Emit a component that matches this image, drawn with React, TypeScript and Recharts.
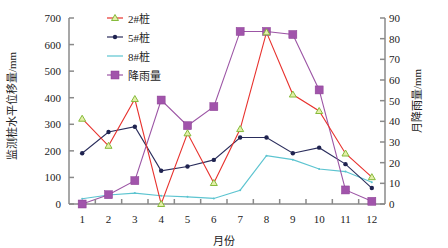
import { ComposedChart, Line, XAxis, YAxis, Legend, Label } from "recharts";

// month categories and readings taken off the figure
const months = ["1", "2", "3", "4", "5", "6", "7", "8", "9", "10", "11", "12"];
const pile2 = [321, 219, 395, 0, 266, 79, 282, 646, 412, 350, 190, 101];
const pile5 = [191, 271, 291, 125, 141, 166, 250, 250, 191, 212, 150, 60];
const pile8 = [20, 34, 41, 31, 27, 21, 52, 182, 167, 132, 122, 82];
const rainfall = [0, 4.5, 11.3, 50.3, 37.9, 47.1, 83.5, 83.5, 82, 55.2, 6.8, 1.3];

const leftTicks = [0, 100, 200, 300, 400, 500, 600, 700];
const rightTicks = [0, 10, 20, 30, 40, 50, 60, 70, 80, 90];

const series = [
  { key: "p2", name: "2#桩", color: "#e8322e", marker: "triangle" },
  { key: "p5", name: "5#桩", color: "#2a2d5c", marker: "dot" },
  { key: "p8", name: "8#桩", color: "#5cc4d0", marker: "none" },
  { key: "rain", name: "降雨量", color: "#9c55a5", marker: "square" },
];

const data = months.map((m, i) => ({
  month: m,
  p2: pile2[i],
  p5: pile5[i],
  p8: pile8[i],
  rain: rainfall[i],
}));

const W = 448;
const H = 248;
const LEFT_W = 69;
const RIGHT_W = 63;
const TOP = 18;
const X_H = 44;
const PLOT_W = W - LEFT_W - RIGHT_W;
const band = PLOT_W / months.length;

const AXIS = "#8a8a8a";
const TEXT = "#222";
const FONT = "'Liberation Serif', 'Times New Roman', 'DejaVu Serif', 'Noto Sans CJK SC', serif";

function Triangle({ cx, cy }: any) {
  if (cx == null || cy == null) return null;
  return (
    <polygon
      points={`${cx},${cy - 3.5} ${cx - 3.5},${cy + 2.5} ${cx + 3.5},${cy + 2.5}`}
      fill="#e3efa8"
      stroke="#86bb3c"
      strokeWidth={1}
    />
  );
}

function Square({ cx, cy }: any) {
  if (cx == null || cy == null) return null;
  return <rect x={cx - 4} y={cy - 4} width={8} height={8} fill="#a154ab" stroke="#8b3f93" strokeWidth={0.5} />;
}

function SmallDot({ cx, cy }: any) {
  if (cx == null || cy == null) return null;
  return <circle cx={cx} cy={cy} r={2.2} fill="#1f2350" />;
}

function TinyDot({ cx, cy }: any) {
  if (cx == null || cy == null) return null;
  return <circle cx={cx} cy={cy} r={1} fill="#5cc4d0" />;
}

function XTick({ x, y, payload, index }: any) {
  // tickSize 0, tickMargin 10 -> axis line sits 10px above y
  const axisY = y - 10;
  return (
    <g>
      {index < months.length - 1 && (
        <line x1={x + band / 2} x2={x + band / 2} y1={axisY} y2={axisY - 5} stroke={AXIS} strokeWidth={1.5} />
      )}
      <text x={x} y={y} dy={9} textAnchor="middle" fontSize={11} fill={TEXT} fontFamily={FONT}>
        {payload.value}
      </text>
    </g>
  );
}

function LeftTick({ x, y, payload }: any) {
  const axisX = x + 8;
  return (
    <g>
      <line x1={axisX} x2={axisX + 5} y1={y} y2={y} stroke={AXIS} strokeWidth={1.5} />
      <text x={x} y={y} dy={4} textAnchor="end" fontSize={11} fill={TEXT} fontFamily={FONT}>
        {payload.value}
      </text>
    </g>
  );
}

function RightTick({ x, y, payload }: any) {
  const axisX = x - 4;
  return (
    <g>
      <line x1={axisX - 5} x2={axisX} y1={y} y2={y} stroke={AXIS} strokeWidth={1.5} />
      <text x={x} y={y} dy={4} textAnchor="start" fontSize={11} fill={TEXT} fontFamily={FONT}>
        {payload.value}
      </text>
    </g>
  );
}

function LegendBox() {
  return (
    <div style={{ fontFamily: FONT, fontSize: 11, color: TEXT }}>
      {series.map((s) => (
        <div key={s.key} style={{ display: "flex", alignItems: "center", height: 19 }}>
          <svg width={18} height={10} style={{ display: "block" }}>
            <line x1={1} x2={17} y1={5} y2={5} stroke={s.color} strokeWidth={1.2} />
            {s.marker === "triangle" && <Triangle cx={9} cy={5} />}
            {s.marker === "dot" && <SmallDot cx={9} cy={5} />}
            {s.marker === "square" && <Square cx={9} cy={5} />}
          </svg>
          <span style={{ marginLeft: 4 }}>{s.name}</span>
        </div>
      ))}
    </div>
  );
}

export default function App() {
  return (
    <div style={{ position: "absolute", left: 0, top: 0, width: W, height: H, background: "#fff" }}>
      <ComposedChart
        width={W}
        height={H}
        data={data}
        margin={{ top: TOP, right: 0, bottom: 0, left: 0 }}
        style={{ fontFamily: FONT }}
      >
        <XAxis
          dataKey="month"
          scale="band"
          interval={0}
          height={X_H}
          tickSize={0}
          tickMargin={10}
          tick={<XTick />}
          axisLine={{ stroke: AXIS, strokeWidth: 1.5 }}
        >
          <Label
            content={() => (
              <text x={W / 2} y={H - 3} textAnchor="middle" fontSize={11} fill={TEXT} fontFamily={FONT}>
                月份
              </text>
            )}
          />
        </XAxis>
        <YAxis
          yAxisId="left"
          width={LEFT_W}
          domain={[0, 700]}
          ticks={leftTicks}
          interval={0}
          tickSize={0}
          tickMargin={8}
          tick={<LeftTick />}
          axisLine={{ stroke: AXIS, strokeWidth: 1.5 }}
        >
          <Label
            content={({ viewBox }: any) => {
              const cx = 12;
              const cy = viewBox.y + viewBox.height / 2 - 5;
              return (
                <text
                  x={cx}
                  y={cy}
                  transform={`rotate(-90, ${cx}, ${cy})`}
                  textAnchor="middle"
                  dominantBaseline="central"
                  fontSize={11}
                  fill={TEXT}
                  fontFamily={FONT}
                >
                  监测桩水平位移量/mm
                </text>
              );
            }}
          />
        </YAxis>
        <YAxis
          yAxisId="right"
          orientation="right"
          width={RIGHT_W}
          domain={[0, 90]}
          ticks={rightTicks}
          interval={0}
          tickSize={0}
          tickMargin={4}
          tick={<RightTick />}
          axisLine={{ stroke: AXIS, strokeWidth: 1.5 }}
        >
          <Label
            content={({ viewBox }: any) => {
              const cx = viewBox.x + 32;
              const cy = viewBox.y + viewBox.height / 2 - 10;
              return (
                <text
                  x={cx}
                  y={cy}
                  transform={`rotate(-90, ${cx}, ${cy})`}
                  textAnchor="middle"
                  dominantBaseline="central"
                  fontSize={11}
                  fill={TEXT}
                  fontFamily={FONT}
                >
                  月降雨量/mm
                </text>
              );
            }}
          />
        </YAxis>
        <Legend
          layout="vertical"
          align="center"
          verticalAlign="middle"
          content={() => <LegendBox />}
          wrapperStyle={{ position: "absolute", left: 106, top: 8, width: 90 }}
        />
        <Line
          yAxisId="left"
          dataKey="p8"
          name="8#桩"
          stroke="#5cc4d0"
          strokeWidth={1.1}
          dot={<TinyDot />}
          isAnimationActive={false}
        />
        <Line
          yAxisId="left"
          dataKey="p5"
          name="5#桩"
          stroke="#2a2d5c"
          strokeWidth={1.1}
          dot={<SmallDot />}
          isAnimationActive={false}
        />
        <Line
          yAxisId="right"
          dataKey="rain"
          name="降雨量"
          stroke="#9c55a5"
          strokeWidth={1.1}
          dot={<Square />}
          isAnimationActive={false}
        />
        <Line
          yAxisId="left"
          dataKey="p2"
          name="2#桩"
          stroke="#e8322e"
          strokeWidth={1.1}
          dot={<Triangle />}
          isAnimationActive={false}
        />
      </ComposedChart>
    </div>
  );
}
